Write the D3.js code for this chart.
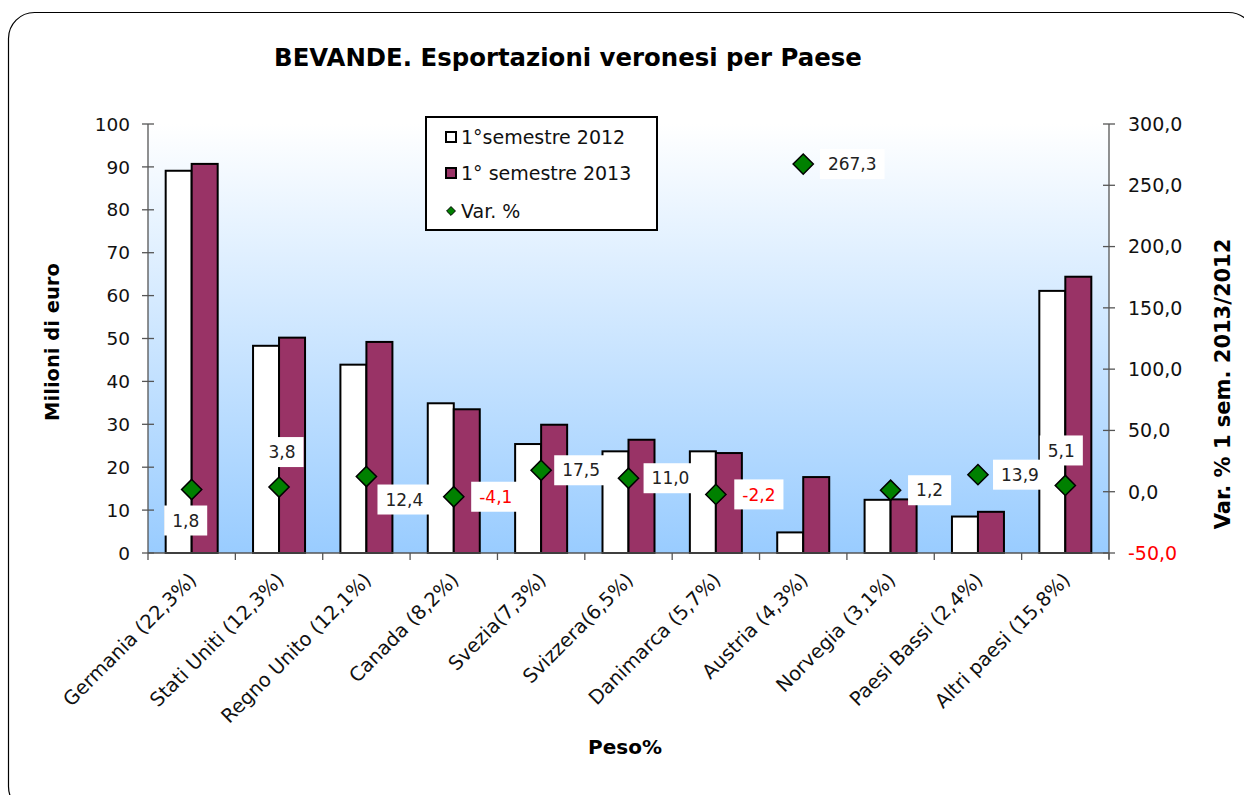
<!DOCTYPE html>
<html>
<head>
<meta charset="utf-8">
<script src="https://cdn.jsdelivr.net/npm/d3@7"></script>
<style>
  body { margin: 0; background: #fff; }
  svg { display: block; font-family: "DejaVu Sans", Verdana, sans-serif; }
</style>
</head>
<body>
<div id="chart"></div>
<script>
// data
var paesi = ["Germania (22,3%)", "Stati Uniti (12,3%)", "Regno Unito (12,1%)", "Canada (8,2%)",
             "Svezia(7,3%)", "Svizzera(6,5%)", "Danimarca (5,7%)", "Austria (4,3%)",
             "Norvegia (3,1%)", "Paesi Bassi (2,4%)", "Altri paesi (15,8%)"];
var sem2012 = [89.1, 48.3, 43.9, 34.9, 25.4, 23.7, 23.7, 4.8, 12.4, 8.5, 61.1];
var sem2013 = [90.7, 50.2, 49.2, 33.5, 29.9, 26.4, 23.3, 17.7, 12.5, 9.6, 64.4];
var varPerc = [1.8, 3.8, 12.4, -4.1, 17.5, 11.0, -2.2, 267.3, 1.2, 13.9, 5.1];
var leftTicks = [0, 10, 20, 30, 40, 50, 60, 70, 80, 90, 100];
var rightTicks = [-50, 0, 50, 100, 150, 200, 250, 300];
var serieNomi = ["1°semestre 2012", "1° semestre 2013", "Var. %"];

// where each value label sits relative to its marker (layout only)
var labelShift = [[-6, 31], [3, -35], [38, 23], [42, 0], [40, 0], [42, 0],
                  [43, 0], [49, 0], [39, 0], [42, 0], [-4, -35]];

var W = 1244, H = 795;
var m = {left: 148, right: 1109, top: 124, bottom: 553};

var svg = d3.select("#chart").append("svg")
    .attr("width", W).attr("height", H);

var defs = svg.append("defs");
var grad = defs.append("linearGradient")
    .attr("id", "bg").attr("x1", 0).attr("y1", 0).attr("x2", 0).attr("y2", 1);
grad.append("stop").attr("offset", "0%").attr("stop-color", "#ffffff");
grad.append("stop").attr("offset", "100%").attr("stop-color", "#99ccff");

// card border (runs off the right and bottom of the picture)
svg.append("rect")
    .attr("x", 8.5).attr("y", 12.5)
    .attr("width", 1246).attr("height", 800)
    .attr("rx", 26)
    .attr("fill", "#fff").attr("stroke", "#000").attr("stroke-width", 1.2);

// plot area
svg.append("rect")
    .attr("x", m.left).attr("y", m.top)
    .attr("width", m.right - m.left).attr("height", m.bottom - m.top)
    .attr("fill", "url(#bg)");

var x = d3.scaleBand().domain(paesi).range([m.left, m.right]).paddingInner(0).paddingOuter(0);
var x1 = d3.scaleBand().domain([0, 1]).range([0, x.bandwidth()]).paddingOuter(0.68).paddingInner(0);
var y = d3.scaleLinear().domain([0, 100]).range([m.bottom, m.top]);
var y2 = d3.scaleLinear().domain([-50, 300]).range([m.bottom, m.top]);

// bars
var groups = svg.selectAll(".paese")
    .data(paesi)
    .enter().append("g")
    .attr("class", "paese")
    .attr("transform", function(d){ return "translate(" + x(d) + ",0)"; });

var colori = ["#ffffff", "#993366"];
groups.selectAll("rect")
    .data(function(d, i){ return [sem2012[i], sem2013[i]]; })
    .enter().append("rect")
    .attr("x", function(d, j){ return x1(j); })
    .attr("y", function(d){ return y(d); })
    .attr("width", x1.bandwidth())
    .attr("height", function(d){ return y(0) - y(d); })
    .attr("fill", function(d, j){ return colori[j]; })
    .attr("stroke", "#000").attr("stroke-width", 2);

// axes
var axisCol = "#555";
var leftAxis = svg.append("g");
leftAxis.append("line")
    .attr("x1", m.left).attr("x2", m.left).attr("y1", m.top).attr("y2", m.bottom)
    .attr("stroke", axisCol).attr("stroke-width", 1.3);
leftAxis.selectAll(".tk").data(leftTicks).enter().append("line")
    .attr("x1", m.left - 6).attr("x2", m.left + 6)
    .attr("y1", function(d){ return y(d); }).attr("y2", function(d){ return y(d); })
    .attr("stroke", axisCol).attr("stroke-width", 1.3);
leftAxis.selectAll("text").data(leftTicks).enter().append("text")
    .attr("x", m.left - 18).attr("y", function(d){ return y(d); })
    .attr("dy", "0.36em").attr("text-anchor", "end")
    .attr("font-size", 18.5).attr("fill", "#111")
    .text(function(d){ return d; });

var rightAxis = svg.append("g");
rightAxis.append("line")
    .attr("x1", m.right).attr("x2", m.right).attr("y1", m.top).attr("y2", m.bottom + 6)
    .attr("stroke", axisCol).attr("stroke-width", 1.3);
rightAxis.selectAll(".tk").data(rightTicks).enter().append("line")
    .attr("x1", m.right - 6).attr("x2", m.right + 6)
    .attr("y1", function(d){ return y2(d); }).attr("y2", function(d){ return y2(d); })
    .attr("stroke", axisCol).attr("stroke-width", 1.3);
rightAxis.selectAll("text").data(rightTicks).enter().append("text")
    .attr("x", m.right + 19).attr("y", function(d){ return y2(d); })
    .attr("dy", "0.36em")
    .attr("font-size", 19)
    .attr("fill", function(d){ return d < 0 ? "#ff0000" : "#111"; })
    .text(function(d){ return d3.format(".1f")(d).replace(".", ",").replace("−", "-"); });

// x axis
svg.append("line")
    .attr("x1", m.left).attr("x2", m.right).attr("y1", m.bottom).attr("y2", m.bottom)
    .attr("stroke", axisCol).attr("stroke-width", 1.5);
var bordi = paesi.map(function(d){ return x(d); }).concat([m.right]);
svg.selectAll(".xtk").data(bordi).enter().append("line")
    .attr("x1", function(d){ return d; }).attr("x2", function(d){ return d; })
    .attr("y1", m.bottom).attr("y2", m.bottom + 7)
    .attr("stroke", axisCol).attr("stroke-width", 1.3);

svg.selectAll(".xlab").data(paesi).enter().append("text")
    .attr("transform", function(d){
        return "translate(" + (x(d) + x.bandwidth() / 2 + 6) + "," + (m.bottom + 28) + ") rotate(-45)";
    })
    .attr("text-anchor", "end")
    .attr("font-size", 19.5).attr("fill", "#111")
    .text(function(d){ return d; });

// axis titles
svg.append("text")
    .attr("transform", "translate(59,342) rotate(-90)")
    .attr("text-anchor", "middle").attr("font-size", 19.5).attr("font-weight", "bold")
    .text("Milioni di euro");
svg.append("text")
    .attr("transform", "translate(1230,384) rotate(-90)")
    .attr("text-anchor", "middle").attr("font-size", 21).attr("font-weight", "bold")
    .text("Var. % 1 sem. 2013/2012");
svg.append("text")
    .attr("x", 625).attr("y", 754)
    .attr("text-anchor", "middle").attr("font-size", 20).attr("font-weight", "bold")
    .text("Peso%");

// title
svg.append("text")
    .attr("x", 568).attr("y", 66)
    .attr("text-anchor", "middle").attr("font-size", 24.4).attr("font-weight", "bold")
    .text("BEVANDE. Esportazioni veronesi per Paese");

// var % markers
var diamond = d3.symbol().type(d3.symbolDiamond2).size(260);
svg.selectAll(".mk").data(varPerc).enter().append("path")
    .attr("d", diamond)
    .attr("transform", function(d, i){
        return "translate(" + (x(paesi[i]) + x.bandwidth() / 2) + "," + y2(d) + ")";
    })
    .attr("fill", "#008000").attr("stroke", "#000").attr("stroke-width", 1.5);

// value labels
var fmt = function(v){ return d3.format(".1f")(v).replace(".", ",").replace("−", "-"); };
var lab = svg.selectAll(".vl").data(varPerc).enter().append("g")
    .attr("transform", function(d, i){
        return "translate(" + (x(paesi[i]) + x.bandwidth() / 2 + labelShift[i][0]) + "," +
            (y2(d) + labelShift[i][1]) + ")";
    });
lab.append("text")
    .attr("text-anchor", "middle").attr("dy", "0.36em")
    .attr("font-size", 17)
    .attr("fill", function(d){ return d < 0 ? "#ff0000" : "#222"; })
    .text(fmt);
lab.each(function(){
    var g = d3.select(this);
    var bb = g.select("text").node().getBBox();
    g.insert("rect", "text")
        .attr("x", bb.x - 8).attr("y", -15)
        .attr("width", bb.width + 16).attr("height", 30)
        .attr("fill", "#fff");
});

// legend
var leg = svg.append("g").attr("transform", "translate(426,117)");
leg.append("rect").attr("width", 231).attr("height", 113)
    .attr("fill", "#fff").attr("stroke", "#000").attr("stroke-width", 2);
var rows = [20, 56, 94];
serieNomi.forEach(function(n, i){
    var r = leg.append("g").attr("transform", "translate(0," + rows[i] + ")");
    if (i < 2) {
        r.append("rect").attr("x", 20).attr("y", -5).attr("width", 10).attr("height", 10)
            .attr("fill", colori[i]).attr("stroke", "#000").attr("stroke-width", 2);
    } else {
        r.append("path").attr("d", d3.symbol().type(d3.symbolDiamond2).size(50))
            .attr("transform", "translate(25,0)")
            .attr("fill", "#008000").attr("stroke", "#000").attr("stroke-width", 1);
    }
    r.append("text").attr("x", 35).attr("dy", "0.36em")
        .attr("font-size", 19).attr("fill", "#111")
        .text(n);
});
</script>
</body>
</html>
